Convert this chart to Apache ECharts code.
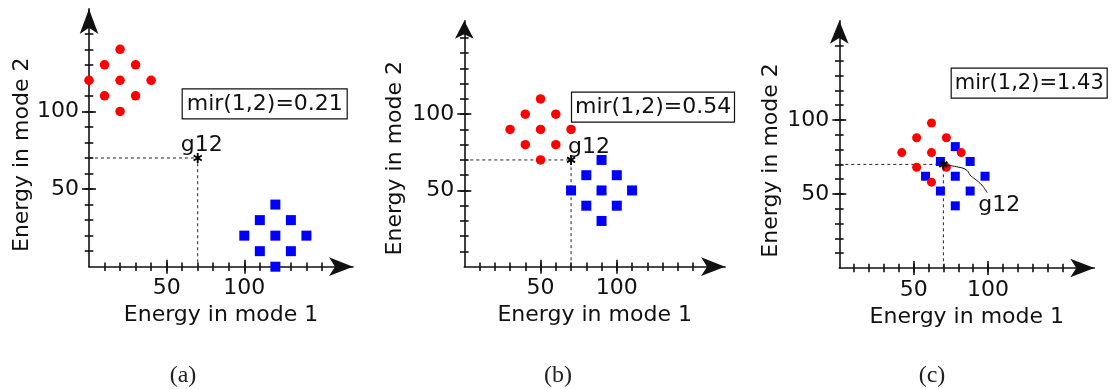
<!DOCTYPE html>
<html>
<head>
<meta charset="utf-8">
<script src="https://cdn.jsdelivr.net/npm/echarts@6/dist/echarts.min.js"></script>
<style>
  html, body { margin: 0; padding: 0; background: #fff; }
  #chart { width: 1112px; height: 389px; }
</style>
</head>
<body>
<div id="chart"></div>
<script>
// Energy of the two clusters in mode 1 (x) and mode 2 (y), one set per panel.
const redA  = [[20,140],[10,130],[30,130],[0,120],[20,120],[40,120],[10,110],[30,110],[20,100]];
const blueA = [[120,40],[110,30],[130,30],[100,20],[120,20],[140,20],[110,10],[130,10],[120,0]];
const redB  = [[50,110],[40,100],[60,100],[30,90],[50,90],[70,90],[40,80],[60,80],[50,70]];
const blueB = [[90,70],[80,60],[100,60],[70,50],[90,50],[110,50],[80,40],[100,40],[90,30]];
const redC  = [[62,98],[52,88],[72,88],[42,78],[62,78],[82,78],[52,68],[72,68],[62,58]];
const blueC = [[78,82],[68,72],[88,72],[58,62],[78,62],[98,62],[68,52],[88,52],[78,42]];

// Centre point g12 between the two clusters
const g12A = [70, 70];
const g12B = [70, 70];
const g12C = [70, 70];

// Mutual-information ratio shown in each panel
const mirValues = ['0.21', '0.54', '1.43'];
const captions = ['(a)', '(b)', '(c)'];

// Leader from g12 to its label in panel (c)
const leaderC = [[70,70],[79,68.4],[84.5,66.9],[86.8,64.9],[87.9,62.8],[91.3,60.1],[95.8,56.1],[99.5,50.9]];

// Axis ticks and labels
const minorTicks = [10,20,30,40,50,60,70,80,90,100,110,120,130,140,150];
const majorTicks = [50, 100];
const tickLabels = [50, 100];

const xName = 'Energy in mode 1';
const yName = 'Energy in mode 2';

// Panel frames: origin in px, px per unit, axis extent (arrow tip at the extent)
const frames = [
  { ox: 89,    oy: 266.7, sx: 1.553, sy: 1.553, xmax: 170,   ymax: 166,   yGap: 52, yPad: 34, yArrow: 25, box: [181.7, 88.3, 22, 5], cap: 178 },
  { ox: 464.3, oy: 266.7, sx: 1.525, sy: 1.525, xmax: 171,   ymax: 161.3, yGap: 58, yPad: 29, yArrow: 18, box: [571, 91.7, 22, 4],   cap: 553 },
  { ox: 839.3, oy: 268,   sx: 1.487, sy: 1.48,  xmax: 171.5, ymax: 167,   yGap: 57, yPad: 32, yArrow: 23, box: [950.7, 67.7, 21, 4], cap: 927 }
];

const ink = '#111';
const font = 'DejaVu Sans';
const fs = 22;

// Asterisk marker: three bars through the centre
function asteriskPath() {
  const t = 0.2;
  let d = '';
  for (const deg of [90, 30, 150]) {
    const a = deg * Math.PI / 180, c = Math.cos(a), s = Math.sin(a);
    const nx = -s * t, ny = c * t;
    const p = [[-c + nx, -s + ny], [c + nx, s + ny], [c - nx, s - ny], [-c - nx, -s - ny]];
    d += 'M' + p.map(q => (q[0] + 1.2).toFixed(3) + ',' + (q[1] + 1.2).toFixed(3)).join('L') + 'Z';
  }
  return 'path://' + d;
}
const star = asteriskPath();

const grids = [], xAxes = [], yAxes = [], series = [], titles = [];

function tickAxis(kind, gi, max, values, len, inside) {
  return {
    type: 'value', gridIndex: gi, min: 0, max: max,
    position: kind === 'x' ? 'bottom' : 'left',
    axisLine: { show: false },
    axisLabel: { show: false },
    splitLine: { show: false },
    axisTick: { show: true, customValues: values, length: len, inside: inside,
                lineStyle: { color: ink, width: 1.6 } }
  };
}

frames.forEach((f, gi) => {
  grids.push({
    left: f.ox, top: f.oy - f.ymax * f.sy,
    width: f.xmax * f.sx, height: f.ymax * f.sy
  });
  xAxes.push({
    type: 'value', gridIndex: gi, min: 0, max: f.xmax, position: 'bottom',
    axisLine: { show: true, onZero: false, symbol: ['none', 'arrow'], symbolSize: [14, 24],
                lineStyle: { color: ink, width: 1.6 } },
    axisTick: { show: true, customValues: minorTicks, length: 4.3, lineStyle: { color: ink, width: 1.6 } },
    axisLabel: { customValues: tickLabels, margin: 11, fontSize: fs, color: ink, fontFamily: font },
    splitLine: { show: false },
    name: xName, nameLocation: 'middle', nameGap: 36,
    nameTextStyle: { fontSize: fs, color: ink, fontFamily: font }
  });
  xAxes.push(tickAxis('x', gi, f.xmax, minorTicks, 4.3, true));
  xAxes.push(tickAxis('x', gi, f.xmax, majorTicks, 7, false));
  xAxes.push(tickAxis('x', gi, f.xmax, majorTicks, 7, true));

  yAxes.push({
    type: 'value', gridIndex: gi, min: 0, max: f.ymax, position: 'left',
    axisLine: { show: true, onZero: false, symbol: ['none', 'arrow'], symbolSize: [14, f.yArrow],
                lineStyle: { color: ink, width: 1.6 } },
    axisTick: { show: true, customValues: minorTicks, length: 4.3, lineStyle: { color: ink, width: 1.6 } },
    axisLabel: { customValues: tickLabels, margin: 10, fontSize: fs, color: ink, fontFamily: font },
    splitLine: { show: false },
    name: yName, nameLocation: 'middle', nameGap: f.yGap,
    nameTextStyle: { fontSize: fs, color: ink, fontFamily: font, padding: [0, f.yPad, 0, 0] }
  });
  yAxes.push(tickAxis('y', gi, f.ymax, minorTicks, 4.3, true));
  yAxes.push(tickAxis('y', gi, f.ymax, majorTicks, 7, false));
  yAxes.push(tickAxis('y', gi, f.ymax, majorTicks, 7, true));

  titles.push({
    text: 'mir(1,2)=' + mirValues[gi],
    left: f.box[0], top: f.box[1],
    borderColor: ink, borderWidth: 1.2, padding: [4, f.box[3], 3, f.box[3]],
    textStyle: { fontSize: f.box[2], lineHeight: 24, fontWeight: 'normal', color: ink, fontFamily: font }
  });
  titles.push({
    text: captions[gi], left: f.cap, top: 359, textAlign: 'center',
    textStyle: { fontSize: 24, fontWeight: 'normal', color: '#222', fontFamily: 'Liberation Serif' }
  });
});

const sets = [
  { red: redA, blue: blueA, g: g12A, sq: 10, dot: 9.5, lab: { position: 'top', distance: 0, offset: [4, 3] } },
  { red: redB, blue: blueB, g: g12B, sq: 10, dot: 9.5, lab: { position: 'top', distance: 0, offset: [18, 3] } },
  { red: redC, blue: blueC, g: g12C, sq: 9,  dot: 9,   lab: null }
];

sets.forEach((s, gi) => {
  const ax = { xAxisIndex: gi * 4, yAxisIndex: gi * 4 };
  // dashed projection of g12 onto both axes
  series.push(Object.assign({
    type: 'line', data: [[0, s.g[1]], [s.g[0], s.g[1]], [s.g[0], 0]],
    symbol: 'none', silent: true, z: 1,
    lineStyle: { color: '#222', width: 1, type: [3, 3] }
  }, ax));
  series.push(Object.assign({
    type: 'scatter', data: s.blue, symbol: 'rect', symbolSize: s.sq,
    itemStyle: { color: '#0000ff', opacity: 1 }, z: 2
  }, ax));
  series.push(Object.assign({
    type: 'scatter', data: s.red, symbol: 'circle', symbolSize: s.dot,
    itemStyle: { color: '#ff0000', opacity: 1 }, z: 3
  }, ax));
  if (gi === 2) {
    series.push(Object.assign({
      type: 'line', data: leaderC, smooth: 0.4, symbol: 'none', z: 4,
      lineStyle: { color: ink, width: 1 }
    }, ax));
    series.push(Object.assign({
      type: 'scatter', data: [leaderC[leaderC.length - 1]], symbolSize: 0, z: 4,
      itemStyle: { opacity: 1 },
      label: { show: true, formatter: 'g12', position: 'bottom', distance: 0, offset: [12, 2],
               fontSize: fs, color: ink, fontFamily: font }
    }, ax));
  }
  series.push(Object.assign({
    type: 'scatter', data: [s.g], symbol: star, symbolSize: [9, 10], z: 5,
    itemStyle: { color: '#000', opacity: 1 },
    label: s.lab ? Object.assign({ show: true, formatter: 'g12', fontSize: fs, color: ink, fontFamily: font }, s.lab)
                 : { show: false }
  }, ax));
});

const chart = echarts.init(document.getElementById('chart'), null, { renderer: 'canvas' });
chart.setOption({
  animation: false,
  backgroundColor: '#fff',
  title: titles,
  grid: grids,
  xAxis: xAxes,
  yAxis: yAxes,
  series: series
});
</script>
</body>
</html>
